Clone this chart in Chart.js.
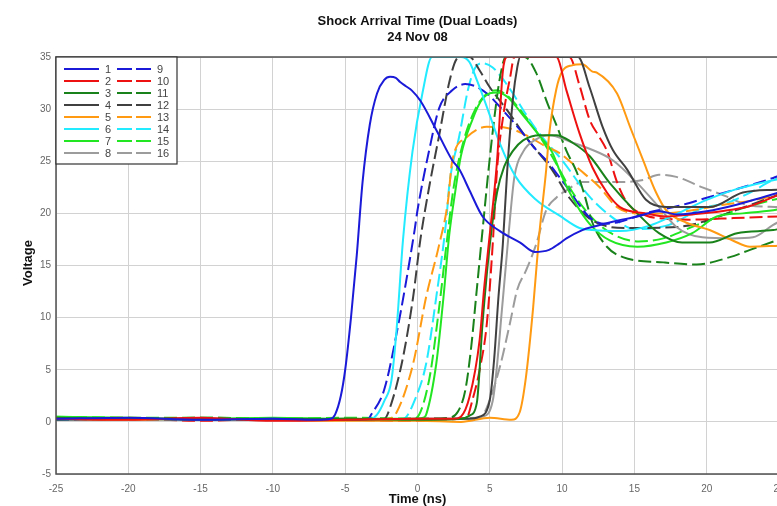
<!DOCTYPE html>
<html>
<head>
<meta charset="utf-8">
<script src="https://cdn.jsdelivr.net/npm/chart.js@4.4.1/dist/chart.umd.min.js"></script>
<style>
  html, body { margin: 0; padding: 0; background: #fff; overflow: hidden; }
  #wrap { width: 800px; height: 506px; }
</style>
</head>
<body>
<div id="wrap"><canvas id="c" width="800" height="506"></canvas></div>
<script>
// ---------- DATA ----------
const titleText = 'Shock Arrival Time (Dual Loads)';
const subtitleText = '24 Nov 08';
const xTitle = 'Time (ns)';
const yTitle = 'Voltage';
const seriesLabels = ['1','2','3','4','5','6','7','8','9','10','11','12','13','14','15','16'];
const xTicks = [-25,-20,-15,-10,-5,0,5,10,15,20,25];
const yTicks = [-5,0,5,10,15,20,25,30,35];

// 1 blue solid
const t1 = [-25,-20,-15,-10,-7,-6,-5.7,-5.3,-5.0,-4.6,-4.2,-3.8,-3.3,-2.8,-2.3,-1.9,-1.5,-1.2,-0.8,-0.4,0.2,1.3,2.4,2.9,3.6,4.5,5.7,7.1,8.1,9.1,9.8,10.3,11.4,12.1,13.5,15.2,16.7,18,20,22,24,25];
const v1 = [0.3,0.4,0.2,0.3,0.2,0.3,0.7,2.5,5,10,16,23,28.5,31.5,32.8,33.1,33.0,32.6,32.2,31.8,30.8,28,25.1,24.2,22.2,19.7,18.3,17.2,16.3,16.5,17.1,17.6,18.4,18.7,19.2,19.7,20.2,19.9,20.2,20.8,21.6,22];
// 2 red solid
const t2 = [-25,-20,-15,-10,-5,0,2.5,3.0,3.6,4.3,4.6,5.0,5.5,5.9,6.2,9.6,10.3,11.2,12.1,13.1,14,15.8,17.2,19,21,23,25];
const v2 = [0.3,0.2,0.4,0.1,0.2,0.3,0.3,0.5,2.4,7.9,12.7,18,25,33.6,35,35,31.8,27.7,24.4,22,20.6,20,19.7,19.9,20.2,20.7,21.8];
// 3 dark green solid
const t3 = [-25,-20,-15,-10,-5,0,3.0,3.6,4.1,4.5,5.0,5.5,6.0,6.6,7.3,8.5,9.6,10.7,11.9,13.3,15.2,16.7,18.3,20.2,22.1,24.6,25];
const v3 = [0.4,0.3,0.3,0.2,0.3,0.2,0.3,0.6,1.8,9.5,17,22,24.5,26,27,27.5,27.5,26.8,25.5,22.9,20,18.1,17.2,17.2,18.1,18.4,18.5];
// 4 dark gray solid
const t4 = [-25,-20,-15,-10,-5,0,3.5,4.3,5.0,5.3,5.6,5.9,6.2,6.6,6.9,7.1,11.1,11.9,12.8,13.5,14.5,15.8,17.2,20.2,22.5,25];
const v4 = [0.2,0.3,0.2,0.3,0.2,0.3,0.3,0.5,2.1,6,12,17,24,31,34,35,35,32.1,28.3,26.1,24.2,21.3,20.6,20.6,22,22.3];
// 5 orange solid
const t5 = [-25,-20,-15,-10,-5,0,3,5,6.5,7.06,7.5,8.0,8.4,8.9,9.1,9.6,10,10.7,11.4,12.1,12.4,13.8,14.7,15.6,16.5,17.2,18.6,20.2,21.8,23,25];
const v5 = [0.3,0.2,0.3,0.2,0.1,0.1,0.0,0.4,0.2,0.9,4.3,11,17.7,24.2,27.5,31.9,33.6,34.2,34.3,33.6,33.5,31.5,28.3,25.1,22,20.3,19.1,18.4,17.4,16.8,16.9];
// 6 cyan solid
const t6 = [-25,-20,-15,-10,-5,-3.2,-2.8,-2.3,-1.8,-1.45,-1.0,-0.35,0.35,1.0,3.0,3.6,4.1,4.8,5.7,6.8,8.2,9.8,11.2,12.1,14,16,18,20,22,24,25];
const v6 = [0.2,0.3,0.2,0.3,0.2,0.3,0.7,2,4,8.8,17.5,25.9,31.6,35,35,34.5,32.8,30.2,26.7,23.5,21.3,19.8,18.6,18.4,18.3,18.8,20,21.3,22.3,23,23.3];
// 7 bright green solid
const t7 = [-25,-20,-15,-10,-5,0,0.4,0.6,1.3,1.8,2.2,2.6,3.0,3.8,4.5,5.5,6.2,7.3,8.4,9.3,10,11,11.9,13.3,15.2,17.2,19,20.7,22.5,24.6,25];
const v7 = [0.5,0.4,0.3,0.4,0.3,0.3,0.4,0.7,5.6,12,18,22,25.5,29,31,31.6,31.2,29.4,27.5,25.9,23.5,20.8,19,17.4,16.8,17.2,18.1,19.7,20,20.3,20.4];
// 8 gray solid
const t8 = [-25,-20,-15,-10,-5,0,3.5,4.5,5.2,5.9,6.3,6.7,7.3,8.2,9.1,10.7,11.9,13.5,15.2,16.7,17.9,19.7,21.8,23.2,24.6,25];
const v8 = [0.3,0.2,0.3,0.2,0.3,0.2,0.3,0.5,2,11.7,18,23.5,25.9,27.1,27.5,26.8,26.2,25.1,22.9,20.6,18.7,17.7,17.6,17.7,18.9,19.2];
// 9 blue dashed
const t9 = [-25,-20,-15,-10,-5,-3.4,-3.2,-2.3,-1.4,-0.2,0,0.8,1.5,2.4,3.3,4.0,4.8,5.9,7.1,8.2,8.9,9.8,10.5,11.2,12,13,14,16,18,20,22,24.6,25];
const v9 = [0.2,0.3,0.2,0.3,0.2,0.3,0.7,3.1,8.8,18.4,20.3,26,30.1,31.8,32.4,32.2,31.5,29.9,28,26.1,25.1,23.5,22.2,20.8,19.5,19,19.2,20.1,20.7,21.5,22.3,23.4,23.6];
// 10 red dashed
const t10 = [-25,-20,-15,-10,-5,0,3.0,3.4,3.8,4.3,4.8,5.2,5.5,6.0,6.4,6.7,10.5,11.2,11.9,12.5,13.1,13.8,14.5,15.8,17,19,21,22.8,25];
const v10 = [0.2,0.3,0.1,0.3,0.2,0.1,0.3,0.4,2.1,5,9.5,17,24.2,30,33,35,35,32.3,29,27.5,26,23,21,19.8,19.5,19.4,19.5,19.6,19.7];
// 11 dark green dashed
const t11 = [-25,-20,-15,-10,-5,0,2.2,2.8,3.3,3.7,4.1,4.5,4.9,5.3,5.7,6.1,7.4,8.2,9.0,9.6,10.3,11,11.5,12.1,13.1,14.2,17,19.3,21.6,23,24.8,25];
const v11 = [0.4,0.3,0.4,0.3,0.2,0.3,0.4,1,3,7,12.7,18.4,24,29,33,35,35,33.5,30.5,28.5,26,24,22,19.1,16.8,15.8,15.3,15.1,15.8,16.5,17.4,17.5];
// 12 dark gray dashed
const t12 = [-25,-20,-15,-10,-5,-2.3,-1.8,-1.0,-0.3,0.2,0.83,1.5,2.2,2.7,3.0,3.6,4.3,5.0,6.2,7.5,9.3,10.5,11.9,13,14.5,18,20,22,24,25];
const v12 = [0.3,0.2,0.3,0.2,0.3,0.3,1.8,6.2,12,17.5,22.7,27.5,32.6,34.8,35,35,33.7,32.1,29.9,27.3,24.2,21.5,19.5,18.8,18.6,18.7,19.3,20.3,21.3,21.8];
// 13 orange dashed
const t13 = [-25,-20,-15,-10,-5,-2,-1.45,-0.3,0.6,1.5,2.1,2.4,3.4,4.8,6.2,7.5,8.9,9.8,11.2,12.6,13.8,15.2,17,19,21,23,25];
const v13 = [0.3,0.4,0.2,0.3,0.2,0.3,0.9,5.6,12,17,21.1,25,27.3,28.3,28.2,27.5,26.4,25.8,24.2,22.5,20.6,20,20,20.3,20.8,21.2,21.8];
// 14 cyan dashed
const t14 = [-25,-20,-15,-10,-5,-1,-0.1,0.6,1.3,2.0,2.2,2.9,3.5,4.0,4.5,5.2,6.0,6.6,7.5,8.4,10,11.9,14,15,17.4,19.7,21.4,23,24.6,25];
const v14 = [0.2,0.3,0.2,0.3,0.2,0.3,2.4,5.6,12,19.5,22.7,27.5,31.9,34,34.4,34,32.7,31.5,29.5,27.7,25.1,21.6,19.1,18.5,18.9,20.5,21,22,23.2,23.4];
// 15 bright green dashed
const t15 = [-25,-20,-15,-10,-5,-0.2,0.8,1.5,2,2.5,3.2,4,4.8,5.5,6.2,7.3,8.4,9.5,10.5,11.5,12.5,13.5,15.3,17,19,21.4,23,24.6,25];
const v15 = [0.5,0.4,0.4,0.3,0.4,0.3,4,11,17,22.5,27,30,31.5,31.8,31.3,29.6,27.5,25,22.5,20.5,19,18,17.3,17.6,18.7,20,20.7,21.3,21.4];
// 16 gray dashed
const t16 = [-25,-20,-15,-10,-5,0,4.3,4.8,5.7,6.4,6.9,7.5,8.2,8.9,9.6,10.3,11.4,13.5,15.6,16.7,17.9,19.7,21.4,22.8,25];
const v16 = [0.2,0.3,0.2,0.3,0.2,0.3,0.4,1.4,5.3,9.5,12.7,14.5,17,20.3,21.5,22.2,23,23,23.2,23.7,23.5,22.5,21.6,20.8,20.6];

const timeArrays = [t1,t2,t3,t4,t5,t6,t7,t8,t9,t10,t11,t12,t13,t14,t15,t16];
const voltArrays = [v1,v2,v3,v4,v5,v6,v7,v8,v9,v10,v11,v12,v13,v14,v15,v16];

// ---------- STYLE ----------
const palette = ['#1a1ad8','#ee1111','#1a821a','#404040','#ff9a12','#22eaff','#22e622','#9c9c9c'];
const FONT = 'Arial, "Liberation Sans", Helvetica, sans-serif';
const SERIES_DASH = [13,5];
const LEGEND_DASH = [15,4];

const datasets = timeArrays.map((ts, i) => ({
  label: seriesLabels[i],
  data: ts.map((t, k) => ({ x: t, y: voltArrays[i][k] })),
  borderColor: palette[i % 8],
  backgroundColor: palette[i % 8],
  borderWidth: 2,
  borderDash: i >= 8 ? SERIES_DASH : [],
  pointRadius: 0,
  fill: false,
  cubicInterpolationMode: 'monotone'
}));

const decorPlugin = {
  id: 'decor',
  afterDatasetsDraw(chart) {
    const { ctx, chartArea: a } = chart;
    ctx.save();
    // frame
    ctx.strokeStyle = '#505050';
    ctx.lineWidth = 1.5;
    ctx.setLineDash([]);
    ctx.strokeRect(a.left, a.top, a.right - a.left, a.bottom - a.top);

    // legend box
    const lx = a.left, ly = a.top, lw = 121, lh = 107;
    ctx.fillStyle = '#fff';
    ctx.fillRect(lx, ly, lw, lh);
    ctx.strokeStyle = '#333';
    ctx.lineWidth = 1.2;
    ctx.strokeRect(lx, ly, lw, lh);
    ctx.font = '11px ' + FONT;
    ctx.textBaseline = 'middle';
    ctx.textAlign = 'left';
    for (let i = 0; i < 8; i++) {
      const y = ly + 12 + i * 12;
      ctx.lineWidth = 2;
      ctx.strokeStyle = palette[i];
      ctx.setLineDash([]);
      ctx.beginPath(); ctx.moveTo(lx + 8, y); ctx.lineTo(lx + 43, y); ctx.stroke();
      ctx.setLineDash(LEGEND_DASH);
      ctx.beginPath(); ctx.moveTo(lx + 61, y); ctx.lineTo(lx + 96, y); ctx.stroke();
      ctx.setLineDash([]);
      ctx.fillStyle = '#444';
      ctx.fillText(seriesLabels[i], lx + 49, y + 1);
      ctx.fillText(seriesLabels[i + 8], lx + 101, y + 1);
    }

    // titles
    const cx = (a.left + a.right) / 2;
    ctx.fillStyle = '#111';
    ctx.textAlign = 'center';
    ctx.font = 'bold 13px ' + FONT;
    ctx.fillText(titleText, cx, 21);
    ctx.fillText(subtitleText, cx, 37);
    ctx.fillText(xTitle, cx, 499);
    ctx.save();
    ctx.translate(28, 263);
    ctx.rotate(-Math.PI / 2);
    ctx.fillText(yTitle, 0, 0);
    ctx.restore();
    ctx.restore();
  }
};

new Chart(document.getElementById('c'), {
  type: 'line',
  data: { datasets },
  options: {
    responsive: false,
    animation: false,
    devicePixelRatio: 1,
    layout: { padding: { left: 0, right: 21, top: 57, bottom: 0 } },
    plugins: { legend: { display: false }, title: { display: false }, tooltip: { enabled: false } },
    scales: {
      x: {
        type: 'linear',
        min: -25, max: 25,
        afterBuildTicks(s) { s.ticks = xTicks.map(v => ({ value: v })); },
        afterFit(s) { s.height = 32; },
        grid: { color: '#d2d2d2', lineWidth: 1, drawTicks: false },
        border: { display: false },
        ticks: { padding: 9, color: '#666', font: { family: FONT, size: 10 }, maxRotation: 0, autoSkip: false }
      },
      y: {
        type: 'linear',
        min: -5, max: 35,
        afterBuildTicks(s) { s.ticks = yTicks.map(v => ({ value: v })); },
        afterFit(s) { s.width = 56; },
        grid: { color: '#d2d2d2', lineWidth: 1, drawTicks: false },
        border: { display: false },
        ticks: { padding: 5, color: '#666', font: { family: FONT, size: 10 } }
      }
    }
  },
  plugins: [decorPlugin]
});
</script>
</body>
</html>
